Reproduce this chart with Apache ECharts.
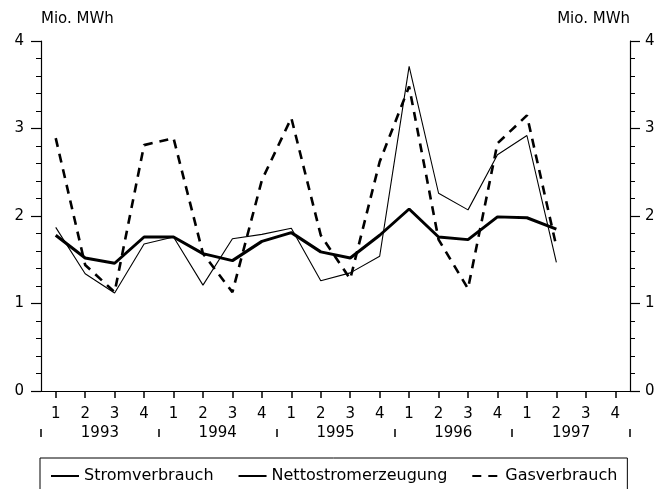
<!DOCTYPE html>
<html>
<head>
<meta charset="utf-8">
<script src="https://cdn.jsdelivr.net/npm/echarts@6/dist/echarts.min.js"></script>
<style>
  html, body { margin: 0; padding: 0; background: #fff; }
  #chart { width: 659px; height: 489px; }
</style>
</head>
<body>
<div id="chart"></div>
<script>
// quarters 1993 Q1 .. 1997 Q4
const quarters = ["1","2","3","4","1","2","3","4","1","2","3","4","1","2","3","4","1","2","3","4"];
const years = ["1993", "1994", "1995", "1996", "1997"];

// Mio. MWh, through 1997 Q2
const stromverbrauch = [1.78, 1.52, 1.46, 1.76, 1.76, 1.57, 1.49, 1.71, 1.81, 1.59, 1.52, 1.78, 2.08, 1.76, 1.73, 1.99, 1.98, 1.85];
const nettostromerzeugung = [1.87, 1.34, 1.12, 1.68, 1.76, 1.21, 1.74, 1.79, 1.86, 1.26, 1.35, 1.54, 3.71, 2.26, 2.07, 2.70, 2.92, 1.47];
const gasverbrauch = [2.89, 1.44, 1.13, 2.81, 2.89, 1.57, 1.13, 2.41, 3.12, 1.78, 1.28, 2.62, 3.48, 1.73, 1.17, 2.83, 3.15, 1.65];

const font = "DejaVu Sans";
const black = "#000";

const chart = echarts.init(document.getElementById("chart"));

function yAxis(pos) {
  const left = pos === "left";
  return {
    type: "value",
    position: pos,
    min: 0,
    max: 4,
    interval: 1,
    name: "Mio. MWh",
    nameLocation: "end",
    nameGap: 14,
    nameTextStyle: {
      color: black, fontFamily: font, fontSize: 15,
      align: left ? "left" : "right"
    },
    axisLine: { show: true, lineStyle: { color: black, width: 1.2 } },
    axisTick: { show: true, length: 10, lineStyle: { color: black, width: 1.2 } },
    minorTick: { show: true, splitNumber: 5, length: 5, lineStyle: { color: black, width: 1 } },
    splitLine: { show: false },
    axisLabel: { color: black, fontFamily: font, fontSize: 15, margin: left ? 17 : 15 }
  };
}

// plot area: x 41..630, y 41..391; one quarter = 589 / 20 px
const plotLeft = 41, plotRight = 29;
const half = 589 / quarters.length / 2;

chart.setOption({
  animation: false,
  grid: [
    { left: plotLeft, right: plotRight, top: 41, bottom: 98 },
    // strip carrying the year row and its separators
    { left: plotLeft, right: plotRight, top: 400, bottom: 60 },
    // thin strip shifted by half a quarter: its boundary ticks sit under each quarter
    { left: plotLeft + half, right: plotRight + half, top: 385, bottom: 98 }
  ],
  xAxis: [
    {
      type: "category",
      gridIndex: 0,
      data: quarters,
      boundaryGap: true,
      axisLine: { show: true, lineStyle: { color: black, width: 1.2 } },
      axisTick: { show: false },
      axisLabel: { color: black, fontFamily: font, fontSize: 15, margin: 16, interval: 0 }
    },
    {
      type: "category",
      gridIndex: 1,
      data: years,
      boundaryGap: true,
      axisLine: { show: true, lineStyle: { color: black, opacity: 0 } },
      axisTick: { show: true, length: 8, lineStyle: { color: black, width: 1.5 } },
      axisLabel: { color: black, fontFamily: font, fontSize: 15, margin: -3 }
    },
    {
      type: "category",
      gridIndex: 2,
      data: quarters.slice(1),
      boundaryGap: true,
      axisLine: { show: true, lineStyle: { color: black, opacity: 0 } },
      axisTick: { show: true, interval: 0, length: 7, lineStyle: { color: black, width: 1.5 } },
      axisLabel: { show: true, interval: 0, color: "rgba(0,0,0,0)", fontSize: 8 }
    }
  ],
  yAxis: [
    yAxis("left"),
    yAxis("right"),
    { type: "value", gridIndex: 1, show: false },
    { type: "value", gridIndex: 2, show: false }
  ],
  legend: {
    left: 40,
    top: 458,
    padding: [10, 10, 30, 10],
    itemGap: 24,
    itemWidth: 28,
    itemHeight: 14,
    borderColor: black,
    borderWidth: 1,
    itemStyle: { opacity: 0 },
    textStyle: { color: black, fontFamily: font, fontSize: 16 },
    data: ["Stromverbrauch", "Nettostromerzeugung", "Gasverbrauch"]
  },
  series: [
    {
      name: "Stromverbrauch",
      type: "line",
      data: stromverbrauch,
      symbol: "none",
      lineStyle: { color: black, width: 3 },
      itemStyle: { color: black },
      z: 3
    },
    {
      name: "Nettostromerzeugung",
      type: "line",
      data: nettostromerzeugung,
      symbol: "none",
      lineStyle: { color: black, width: 1.1 },
      itemStyle: { color: black },
      z: 2
    },
    {
      name: "Gasverbrauch",
      type: "line",
      data: gasverbrauch,
      symbol: "none",
      lineStyle: { color: black, width: 2.6, type: [9, 7] },
      itemStyle: { color: black },
      z: 4
    }
  ]
});
</script>
</body>
</html>
